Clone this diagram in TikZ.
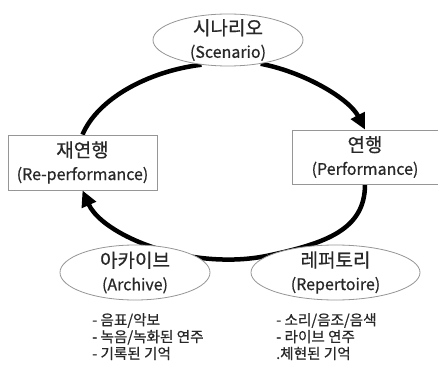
\documentclass[tikz,border=0pt]{standalone}
\usepackage{fontspec}
\setmainfont{Noto Sans CJK KR}[FakeBold=0.6]
\usetikzlibrary{shapes.geometric, arrows.meta, backgrounds}
\definecolor{edgegray}{RGB}{150,150,150}
\definecolor{textgray}{RGB}{40,40,40}
\newcommand{\kr}[1]{{\fontsize{19}{23}\selectfont #1}}

\begin{document}
\begin{tikzpicture}[x=1pt, y=1pt,
        oval/.style={ellipse, draw=edgegray, fill=white, line width=0.8pt, inner xsep=0pt, inner ysep=-5pt, align=center, text=textgray, font=\fontsize{16}{23}\selectfont},
        box/.style={rectangle, draw=edgegray, fill=white, line width=0.8pt, inner sep=0pt, align=center, text=textgray, font=\fontsize{16}{23}\selectfont},
        loop/.style={line width=4.5pt},
        tip/.style={-{Triangle[length=16pt, width=15pt]}},
        notes/.style={anchor=north west, inner sep=0pt, align=left, text=textgray, font=\fontsize{14.6}{16.8}\selectfont}]
        \useasboundingbox (0,0) rectangle (438,367);
        % stages of the cycle
        \node[oval, minimum width=150pt, minimum height=52pt] (scen) at (228,327) {\kr{시나리오}\\(Scenario)};
        \node[box, minimum width=146pt, minimum height=54pt] (perf) at (365,210) {\kr{연행}\\(Performance)};
        \node[box, minimum width=149pt, minimum height=55pt] (reperf) at (82.5,204.5) {\kr{재연행}\\(Re-performance)};
        \node[oval, minimum width=150pt, minimum height=55pt] (arch) at (135,94.5) {\kr{아카이브}\\(Archive)};
        \node[oval, minimum width=169pt, minimum height=55pt] (rep) at (335.5,94.5) {\kr{레퍼토리}\\(Repertoire)};
        \node[notes] (archnotes) at (92,54) {- 음표/악보\\- 녹음/녹화된 연주\\- 기록된 기억};
        \node[notes] (repnotes) at (276,54) {- 소리/음조/음색\\- 라이브 연주\\.체현된 기억};
        % the loop, behind the stages
        \begin{pgfonlayer}{background}
            \draw[loop, tip] (scen.-36) to[out=-11, in=117, out distance=46pt, in distance=34pt] (perf.north);
            \draw[loop] (perf.south) to[out=-90, in=12, out distance=45pt, in distance=60pt] (rep.166);
            \draw[loop] (rep.166) to[out=192, in=-7, out distance=23pt, in distance=23pt] (arch.13);
            \draw[loop, tip] (arch.13) to[out=173, in=-66, out distance=54pt, in distance=39pt] (reperf.south);
            \draw[loop] (reperf.north) to[out=67, in=187, out distance=39pt, in distance=54pt] (scen.-137);
        \end{pgfonlayer}
    \end{tikzpicture}
\end{document}
